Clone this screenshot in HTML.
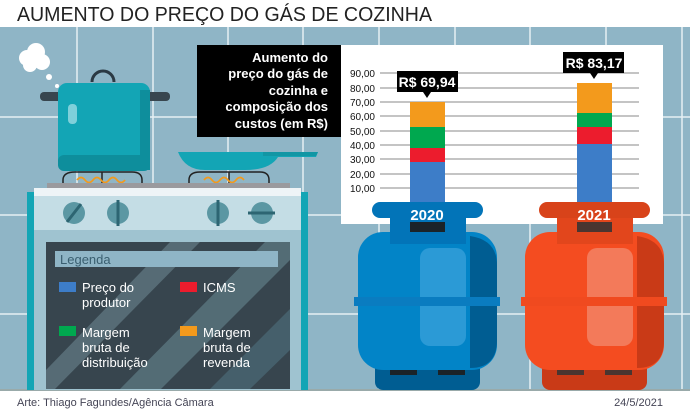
<!DOCTYPE html>
<html><head><meta charset="utf-8"><style>
body{margin:0;width:690px;height:413px;overflow:hidden;background:#fff;font-family:"Liberation Sans","DejaVu Sans",sans-serif}
</style></head><body>
<svg width="690" height="413" viewBox="0 0 690 413" xmlns="http://www.w3.org/2000/svg" font-family="Liberation Sans, DejaVu Sans, sans-serif">
<rect width="690" height="413" fill="#fff"/>
<text x="17" y="21" font-size="20" fill="#222" textLength="415" lengthAdjust="spacingAndGlyphs">AUMENTO DO PREÇO DO GÁS DE COZINHA</text>
<rect x="0" y="27" width="690" height="363" fill="#8fb5c6"/>
<g stroke="#e6f0f4" stroke-width="1.5">
<line x1="0" y1="117" x2="690" y2="117"/><line x1="0" y1="215" x2="690" y2="215"/><line x1="0" y1="314" x2="690" y2="314"/>
<line x1="77" y1="27" x2="77" y2="390"/><line x1="153" y1="27" x2="153" y2="390"/><line x1="228" y1="27" x2="228" y2="390"/><line x1="303" y1="27" x2="303" y2="390"/><line x1="379" y1="27" x2="379" y2="390"/><line x1="455" y1="27" x2="455" y2="390"/><line x1="530" y1="27" x2="530" y2="390"/><line x1="606" y1="27" x2="606" y2="390"/><line x1="682" y1="27" x2="682" y2="390"/>
</g>
<rect x="0" y="389" width="690" height="2" fill="#9aa"/>
<text x="17" y="406" font-size="11" fill="#445">Arte: Thiago Fagundes/Agência Câmara</text>
<text x="663" y="406" font-size="11" fill="#445" text-anchor="end">24/5/2021</text>
<g fill="#fff"><circle cx="27" cy="58" r="8"/><circle cx="36" cy="52" r="9"/><circle cx="42" cy="62" r="8"/><circle cx="30" cy="65" r="7"/><circle cx="49" cy="77" r="3"/><circle cx="57" cy="86" r="2"/></g>
<path d="M92 82 a11 11 0 0 1 22 0" fill="none" stroke="#2b3a44" stroke-width="3"/>
<rect x="40" y="92" width="130" height="9" rx="4" fill="#38464f"/>
<rect x="58" y="83" width="92" height="88" rx="9" fill="#13a5b5"/>
<rect x="140" y="90" width="10" height="80" fill="#0e8e9c"/>
<rect x="58" y="155" width="92" height="16" rx="6" fill="#0e8e9c"/>
<rect x="68" y="104" width="9" height="20" rx="4" fill="#7fd0da"/>
<path d="M178 152 H318 L316 157 H278 Q270 170 245 170 H205 Q185 170 178 152Z" fill="#13a5b5"/>
<path d="M263 152 H318 L316 156 H263Z" fill="#1296a4"/>
<g fill="none" stroke="#222" stroke-width="1.5">
<path d="M63 184 V180 Q63 172 75 172 H132 Q142 172 142 180 V184"/><line x1="102" y1="172" x2="102" y2="184"/>
<path d="M189 184 V180 Q189 172 200 172 H260 Q269 172 269 180 V184"/><line x1="229" y1="172" x2="229" y2="184"/>
</g>
<path d="M77 180 q4 -5 8 0 q4 5 8 0 q4 -5 8 0 q4 5 8 0 q4 -5 8 0 q4 5 8 0" fill="none" stroke="#f39a1c" stroke-width="1.8"/>
<path d="M204 180 q4 -5 8 0 q4 5 8 0 q4 -5 8 0 q4 5 8 0 q4 -5 8 0" fill="none" stroke="#f39a1c" stroke-width="1.8"/>
<rect x="47" y="183" width="243" height="6" fill="#9a9a9e"/>
<rect x="27" y="192" width="281" height="198" fill="#13a5b5"/>
<rect x="34" y="188" width="267" height="202" fill="#9fc3d0"/>
<rect x="34" y="188" width="267" height="8" fill="#eef4f7"/>
<rect x="34" y="196" width="267" height="34" fill="#c4dde5"/>
<g fill="#5b97a3"><circle cx="74" cy="213" r="11"/><circle cx="118" cy="213" r="11"/><circle cx="218" cy="213" r="11"/><circle cx="262" cy="213" r="11"/></g>
<g stroke="#2d6572" stroke-width="3"><line x1="67" y1="222" x2="81" y2="204"/><line x1="118" y1="200" x2="118" y2="226"/><line x1="218" y1="200" x2="218" y2="226"/><line x1="248" y1="213" x2="275" y2="213"/></g>
<defs><clipPath id="door"><rect x="46" y="242" width="244" height="147"/></clipPath></defs>
<rect x="46" y="242" width="244" height="147" fill="#37454e"/>
<g clip-path="url(#door)">
<polygon points="120,389 265,242 290,242 290,260 161,389" fill="#5a7580" opacity="0.8"/>
<polygon points="46,389 46,370 170,242 200,242 55,389" fill="#6b8590" opacity="0.6"/>
<polygon points="210,389 290,309 290,350 250,389" fill="#4b6b78" opacity="0.7"/>
</g>
<rect x="55" y="251" width="223" height="16" fill="#8fb5c6"/>
<text x="60" y="264" font-size="13" fill="#3a5f70">Legenda</text>
<g font-size="13" fill="#fff">
<rect x="59" y="282" width="17" height="10" fill="#3d7dc8"/><text x="82" y="292">Preço do</text><text x="82" y="307">produtor</text>
<rect x="180" y="282" width="17" height="10" fill="#ec1c2d"/><text x="203" y="292">ICMS</text>
<rect x="59" y="326" width="17" height="10" fill="#00a84f"/><text x="82" y="337">Margem</text><text x="82" y="352">bruta de</text><text x="82" y="367">distribuição</text>
<rect x="180" y="326" width="17" height="10" fill="#f39a1c"/><text x="203" y="337">Margem</text><text x="203" y="352">bruta de</text><text x="203" y="367">revenda</text>
</g>
<rect x="341" y="45" width="322" height="179" fill="#fff"/>
<rect x="197" y="45" width="144" height="92" fill="#000"/>
<g font-size="13" font-weight="bold" fill="#fff" text-anchor="end">
<text x="328" y="62">Aumento do</text><text x="328" y="78">preço do gás de</text><text x="328" y="95">cozinha e</text><text x="328" y="111">composição dos</text><text x="328" y="128">custos (em R$)</text>
</g>
<g stroke="#888" stroke-width="1">
<line x1="380" y1="73" x2="639" y2="73"/><line x1="380" y1="88" x2="639" y2="88"/><line x1="380" y1="102" x2="639" y2="102"/><line x1="380" y1="116" x2="639" y2="116"/><line x1="380" y1="131" x2="639" y2="131"/><line x1="380" y1="145" x2="639" y2="145"/><line x1="380" y1="159" x2="639" y2="159"/><line x1="380" y1="174" x2="639" y2="174"/><line x1="380" y1="188" x2="639" y2="188"/>
</g>
<g font-size="10" fill="#111" text-anchor="end">
<text x="375" y="77">90,00</text><text x="375" y="92">80,00</text><text x="375" y="106">70,00</text><text x="375" y="120">60,00</text><text x="375" y="135">50,00</text><text x="375" y="149">40,00</text><text x="375" y="163">30,00</text><text x="375" y="178">20,00</text><text x="375" y="192">10,00</text>
</g>
<rect x="410" y="102" width="35" height="25" fill="#f39a1c"/><rect x="410" y="127" width="35" height="21" fill="#00a84f"/><rect x="410" y="148" width="35" height="14" fill="#ec1c2d"/><rect x="410" y="162" width="35" height="45" fill="#3d7dc8"/>
<rect x="577" y="83" width="35" height="30" fill="#f39a1c"/><rect x="577" y="113" width="35" height="14" fill="#00a84f"/><rect x="577" y="127" width="35" height="17" fill="#ec1c2d"/><rect x="577" y="144" width="35" height="63" fill="#3d7dc8"/>
<rect x="397" y="71" width="61" height="21" fill="#000"/><polygon points="423,92 431,92 427,98" fill="#000"/>
<text x="427" y="87" font-size="14" font-weight="bold" fill="#fff" text-anchor="middle">R$ 69,94</text>
<rect x="563" y="52" width="61" height="21" fill="#000"/><polygon points="590,73 598,73 594,79" fill="#000"/>
<text x="594" y="68" font-size="14" font-weight="bold" fill="#fff" text-anchor="middle">R$ 83,17</text>
<g>
<rect x="375" y="355" width="105" height="35" rx="8" fill="#005d92"/>
<rect x="390" y="367" width="27" height="8" fill="#1b2328"/><rect x="438" y="367" width="27" height="8" fill="#1b2328"/>
<rect x="358" y="232" width="139" height="138" rx="25" fill="#0284c7"/>
<path d="M470 236 Q497 240 497 265 V340 Q497 368 470 368Z" fill="#005d92"/>
<rect x="420" y="248" width="46" height="98" rx="10" fill="#2b9ad6"/>
<rect x="354" y="297" width="146" height="9" fill="#0a7cc0"/>
<rect x="390" y="214" width="76" height="30" fill="#0274b8"/>
<rect x="410" y="222" width="35" height="10" fill="#1b2328"/>
<rect x="372" y="202" width="111" height="16" rx="8" fill="#0274b8"/>
<text x="427" y="220" font-size="15" font-weight="bold" fill="#fff" text-anchor="middle">2020</text>
</g>
<g>
<rect x="542" y="355" width="105" height="35" rx="8" fill="#c93a17"/>
<rect x="557" y="367" width="27" height="8" fill="#4a3530"/><rect x="605" y="367" width="27" height="8" fill="#4a3530"/>
<rect x="525" y="232" width="139" height="138" rx="25" fill="#f44c20"/>
<path d="M637 236 Q664 240 664 265 V340 Q664 368 637 368Z" fill="#c93a17"/>
<rect x="587" y="248" width="46" height="98" rx="10" fill="#f37a5a"/>
<rect x="521" y="297" width="146" height="9" fill="#f04a1f"/>
<rect x="557" y="214" width="76" height="30" fill="#e2461c"/>
<rect x="577" y="222" width="35" height="10" fill="#4a3530"/>
<rect x="539" y="202" width="111" height="16" rx="8" fill="#d8431a"/>
<text x="594" y="220" font-size="15" font-weight="bold" fill="#fff" text-anchor="middle">2021</text>
</g>
</svg>
</body></html>
